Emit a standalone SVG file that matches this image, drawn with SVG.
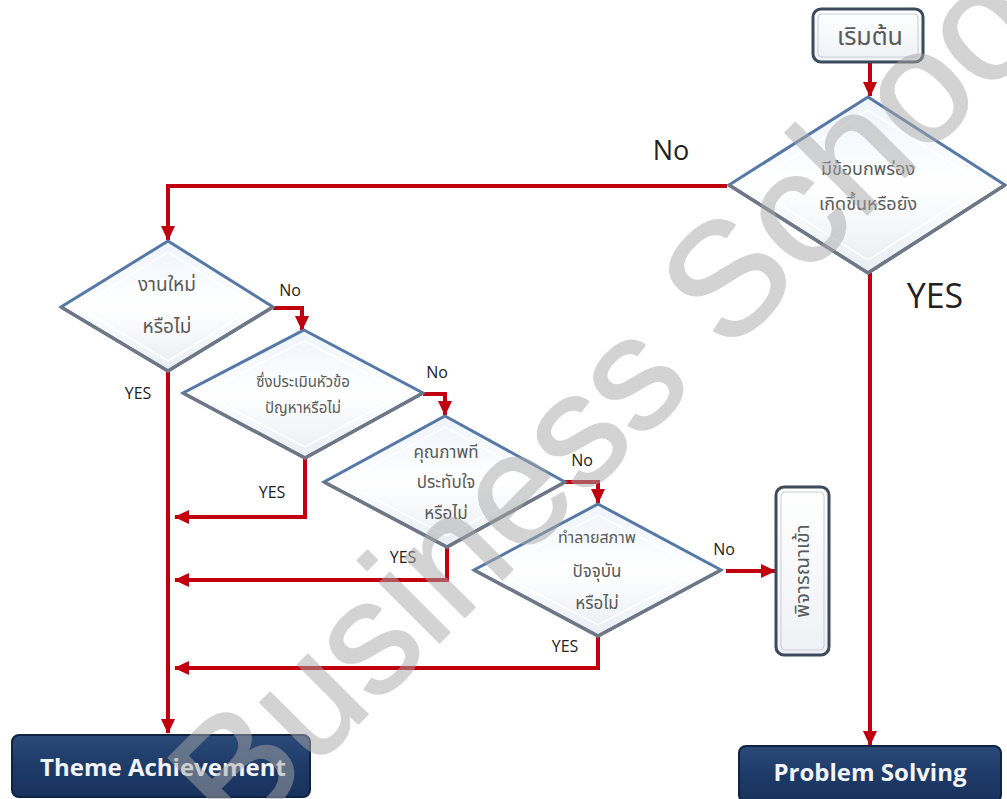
<svg xmlns="http://www.w3.org/2000/svg" width="1007" height="799" viewBox="0 0 1007 799">
<defs>
<style>
.dia{fill:url(#dg);stroke:#5578a6;stroke-width:3;stroke-linejoin:miter}
.diab{fill:none;stroke:#6e7785;stroke-width:3.5;stroke-linejoin:miter}
.dial{fill:none;stroke:#ffffff;stroke-width:1.5;opacity:0.9}
.th{font-family:"Noto Sans Thai","Tahoma","Loma","Garuda","Liberation Sans",sans-serif;fill:#5a5a5a;text-anchor:middle}
.lbl{font-family:"Open Sans","Liberation Sans",sans-serif;fill:#222;text-anchor:middle}
.con{fill:none;stroke:#c0000f;stroke-width:4;stroke-linejoin:miter}
.dark{fill:url(#bg);stroke:#0f2344;stroke-width:2}
.dt{font-family:"Open Sans","Liberation Sans",sans-serif;font-weight:bold;fill:#f2f4f8;text-anchor:middle}
</style>
<linearGradient id="dg" x1="0" y1="0" x2="0" y2="1">
<stop offset="0" stop-color="#eef4fb"/>
<stop offset="0.5" stop-color="#ffffff"/>
<stop offset="1" stop-color="#e9edf2"/>
</linearGradient>
<linearGradient id="bg" x1="0" y1="0" x2="0" y2="1">
<stop offset="0" stop-color="#2b4a78"/>
<stop offset="0.5" stop-color="#1e3b68"/>
<stop offset="1" stop-color="#17325c"/>
</linearGradient>
<linearGradient id="sg" x1="0" y1="0" x2="0" y2="1">
<stop offset="0" stop-color="#ffffff"/>
<stop offset="1" stop-color="#eef1f5"/>
</linearGradient>
<marker id="ah" markerUnits="userSpaceOnUse" markerWidth="16" markerHeight="16" viewBox="0 0 16 16" refX="14" refY="8" orient="auto">
<path d="M0,1 L15,8 L0,15 Z" fill="#c0000f"/>
</marker>
</defs>
<rect width="1007" height="799" fill="#ffffff"/>

<g id="connectors">
<path class="con" d="M870,63 V96" marker-end="url(#ah)"/>
<path class="con" d="M727,186 H168 V240" marker-end="url(#ah)"/>
<path class="con" d="M870,273 V745" marker-end="url(#ah)"/>
<path class="con" d="M273,308 H302 V330" marker-end="url(#ah)"/>
<path class="con" d="M168,370 V733" marker-end="url(#ah)"/>
<path class="con" d="M423,394 H445 V415" marker-end="url(#ah)"/>
<path class="con" d="M305,458 V517 H175" marker-end="url(#ah)"/>
<path class="con" d="M565,482 H598 V503" marker-end="url(#ah)"/>
<path class="con" d="M447,547 V580 H175" marker-end="url(#ah)"/>
<path class="con" d="M726,571 H775" marker-end="url(#ah)"/>
<path class="con" d="M598,635 V668 H175" marker-end="url(#ah)"/>
</g>

<g id="labels">
<text class="lbl" x="671" y="160" font-size="27">No</text>
<text class="lbl" x="935" y="308" font-size="34">YES</text>
<text class="lbl" x="290" y="296" font-size="16">No</text>
<text class="lbl" x="138" y="399" font-size="16">YES</text>
<text class="lbl" x="437" y="378" font-size="16">No</text>
<text class="lbl" x="272" y="498" font-size="16">YES</text>
<text class="lbl" x="582" y="466" font-size="16" fill="#777">No</text>
<text class="lbl" x="403" y="563" font-size="16">YES</text>
<text class="lbl" x="724" y="555" font-size="16">No</text>
<text class="lbl" x="565" y="652" font-size="16">YES</text>
</g>

<g id="start">
<rect x="813" y="9" width="110" height="53" rx="8" fill="url(#sg)" stroke="#3c4a5c" stroke-width="3"/>
<rect x="818" y="14" width="100" height="43" rx="4" fill="none" stroke="#c8ced6" stroke-width="1"/>
<text class="th" x="870" y="45" font-size="25" fill="#444">เริมต้น</text>
</g>

<g id="d1">
<polygon class="dia" points="868,97 1005,185 868,273 729,185"/>
<polyline class="diab" points="729,185 868,273 1005,185"/>
<polygon class="dial" points="868,110 985,185 868,260 749,185"/>
<text class="th" x="868" y="175" font-size="18">มีข้อบกพร่อง</text>
<text class="th" x="868" y="210" font-size="18">เกิดขึ้นหรือยัง</text>
</g>

<g id="d2">
<polygon class="dia" points="168,241 273,307 168,371 61,307"/>
<polyline class="diab" points="61,307 168,371 273,307"/>
<polygon class="dial" points="168,252 256,307 168,361 78,307"/>
<text class="th" x="167" y="291" font-size="19">งานใหม่</text>
<text class="th" x="167" y="333" font-size="19">หรือไม่</text>
</g>

<g id="d3">
<polygon class="dia" points="304,330 423,393 305,458 183,393"/>
<polyline class="diab" points="183,393 305,458 423,393"/>
<polygon class="dial" points="304,341 405,393 305,447 201,393"/>
<text class="th" x="303" y="387" font-size="15">ซึ่งประเมินหัวข้อ</text>
<text class="th" x="303" y="413" font-size="15">ปัญหาหรือไม่</text>
</g>

<g id="d4">
<polygon class="dia" points="445,416 565,482 447,547 324,482"/>
<polyline class="diab" points="324,482 447,547 565,482"/>
<polygon class="dial" points="445,427 547,482 447,536 342,482"/>
<text class="th" x="446" y="458" font-size="17">คุณภาพที</text>
<text class="th" x="446" y="488" font-size="17">ประทับใจ</text>
<text class="th" x="446" y="519" font-size="17">หรือไม่</text>
</g>

<g id="d5">
<polygon class="dia" points="598,504 721,570 598,636 474,570"/>
<polyline class="diab" points="474,570 598,636 721,570"/>
<polygon class="dial" points="598,515 703,570 598,625 492,570"/>
<text class="th" x="597" y="543" font-size="16">ทำลายสภาพ</text>
<text class="th" x="597" y="577" font-size="17">ปัจจุบัน</text>
<text class="th" x="597" y="609" font-size="17">หรือไม่</text>
</g>

<g id="consider">
<rect x="776" y="487" width="53" height="168" rx="8" fill="url(#sg)" stroke="#3c4a5c" stroke-width="3"/>
<rect x="781" y="492" width="43" height="158" rx="4" fill="none" stroke="#c8ced6" stroke-width="1"/>
<text class="th" x="0" y="0" font-size="20" fill="#444" transform="translate(809,571) rotate(-90)">พิจารณาเข้า</text>
</g>

<g id="theme">
<rect class="dark" x="12" y="735" width="298" height="62" rx="7"/>
<text class="dt" x="163" y="776" font-size="24">Theme Achievement</text>
</g>

<g id="problem">
<rect class="dark" x="739" y="746" width="262" height="56" rx="7"/>
<text class="dt" x="870" y="781" font-size="24">Problem Solving</text>
</g>

<g id="watermark" opacity="0.5">
<text x="0" y="0" font-family="Liberation Sans, sans-serif" font-size="160" fill="#a8a8a8" stroke="#a8a8a8" stroke-width="2" stroke-linejoin="round" transform="translate(237,845) rotate(-45)">Business School</text>
</g>
</svg>
